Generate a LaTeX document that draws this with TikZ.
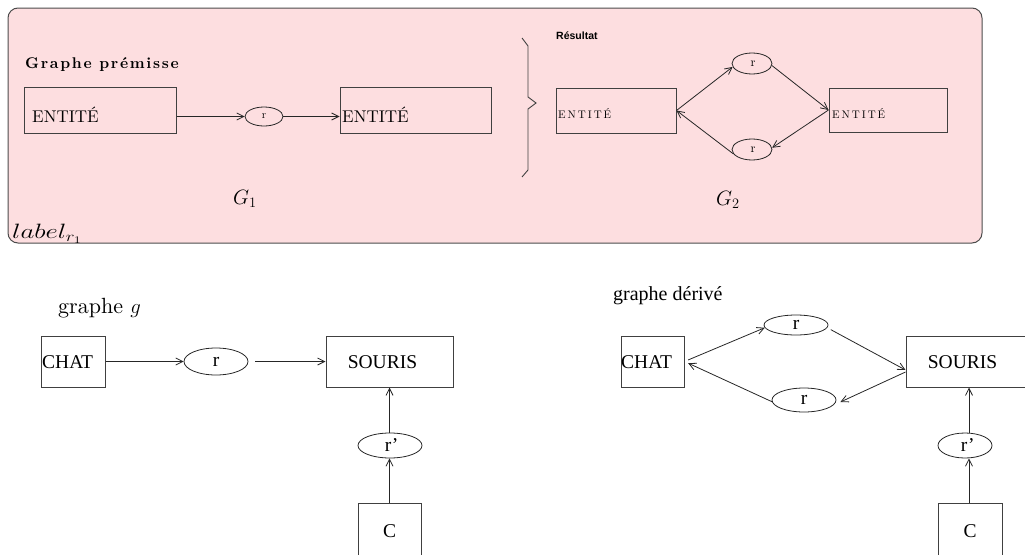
\documentclass[tikz,border=0pt]{standalone}
\usepackage{fontspec}
\setmainfont{lmroman10}[Extension=.otf, UprightFont=*-regular, BoldFont=*-bold, ItalicFont=*-italic, BoldItalicFont=*-bolditalic]
\newfontfamily\tmsfont{Liberation Serif}
\newfontfamily\hlvfont{Liberation Sans}
\usetikzlibrary{arrows.meta,shapes.geometric}
\definecolor{pinkbg}{RGB}{253,222,224}
\begin{document}
\begin{tikzpicture}[x=1pt,y=-1pt,
  box/.style={draw=black!75, line width=1pt, rectangle, inner sep=0pt},
  oval/.style={draw=black!85, line width=0.8pt, ellipse, inner sep=0pt},
  arr/.style={draw=black!85, line width=0.8pt, -{Straight Barb[length=7pt,width=7pt]}},
  txt/.style={inner sep=0pt},
  cmtext/.style={font=\fontsize{17}{20}\selectfont},
  smtext/.style={font=\fontsize{11}{13}\selectfont\addfontfeature{LetterSpace=18}},
  tmtext/.style={font=\tmsfont\fontsize{19.5}{22}\selectfont},
  mathlab/.style={font=\fontsize{20}{24}\selectfont},
  ]
\useasboundingbox (0,0) rectangle (1025,554);
\clip (0,0) rectangle (1025,554);
\draw[fill=pinkbg, draw=black!70, line width=1pt, rounded corners=10pt] (8,8) rectangle (982,243);

% ---------- G1 ----------
\node[txt, anchor=base west, font=\bfseries\fontsize{15.5}{18}\selectfont\addfontfeature{LetterSpace=11}] (gp) at (25,68) {Graphe prémisse};
\node[box, minimum width=152pt, minimum height=46pt] (e1) at (100,110) {};
\node[txt, cmtext, anchor=base west] (e1t) at (32,122) {ENTITÉ};
\node[oval, minimum width=38pt, minimum height=19pt, font=\fontsize{11}{12}\selectfont] (r1) at (264,116.5) {r};
\node[box, minimum width=151pt, minimum height=46pt] (e2) at (415.5,110) {};
\node[txt, cmtext, anchor=base west] (e2t) at (342,122) {ENTITÉ};
\draw[arr] (r1.west -| e1.east) -- (r1.west);
\draw[arr] (r1.east) -- (r1.east -| e2.west);
\node[mathlab] (g1) at (245,199) {$G_1$};
\node[txt, anchor=base west, font=\fontsize{20}{24}\selectfont] (lab) at (12,238) {\scalebox{1.3}[1]{$label_{r_1}$}};

% ---------- brace ----------
\draw[black!75, line width=0.9pt] (522,38) -- (528,46) -- (528,97) -- (536,103) -- (528,109) -- (528,170) -- (522,177);

% ---------- G2 ----------
\node[txt, anchor=base west, font=\hlvfont\bfseries\fontsize{10.5}{12}\selectfont] (res) at (556,39.5) {Résultat};
\node[box, minimum width=120pt, minimum height=45pt] (gl) at (616,110.5) {};
\node[txt, smtext, anchor=base west] (glt) at (558,118.5) {ENTITÉ};
\node[box, minimum width=118pt, minimum height=44pt] (gr) at (888,110) {};
\node[txt, smtext, anchor=base west] (grt) at (832,118) {ENTITÉ};
\node[oval, minimum width=40pt, minimum height=21pt, font=\fontsize{12.5}{14}\selectfont] (gt) at (752,63.5) {\,r};
\node[oval, minimum width=40pt, minimum height=21pt, font=\fontsize{12.5}{14}\selectfont] (gb) at (752,149.5) {\,r};
\draw[arr] (gl.east) -- (gt.190);
\draw[arr] (gt.354) -- (gr.west);
\draw[arr] (gr.west) -- (gb.5);
\draw[arr] (gb.193) -- (gl.east);
\node[mathlab] (g2) at (728,200) {$G_2$};

% ---------- graphe g ----------
\node[txt, anchor=base west, font=\fontsize{22}{26}\selectfont] (lg) at (58,313) {graphe $g$};
\node[box, minimum width=64pt, minimum height=51pt] (ca) at (73,361.5) {};
\node[txt, tmtext, anchor=west] (cat) at (42,362) {CHAT};
\node[oval, minimum width=64pt, minimum height=27pt, tmtext] (ra) at (216,361.5) {r};
\node[box, minimum width=127pt, minimum height=51pt] (sa) at (389.5,361.5) {};
\node[txt, tmtext] (sat) at (382.5,362) {SOURIS};
\node[oval, minimum width=64pt, minimum height=25pt, tmtext] (rpa) at (390,445.5) {\,r’};
\node[box, minimum width=63pt, minimum height=56pt, tmtext] (cca) at (389.5,531) {C};
\draw[arr] (ca.east) -- (ra.west);
\draw[arr, shorten <=7pt] (ra.east) -- (sa.west);
\draw[arr] (cca.north) -- (cca.north |- rpa.south);
\draw[arr] (rpa.north -| cca.north) -- (sa.south -| cca.north);

% ---------- graphe derive ----------
\node[txt, anchor=base west, font=\tmsfont\fontsize{20}{24}\selectfont] (ld) at (613,300) {graphe dérivé};
\node[box, minimum width=63pt, minimum height=51pt] (cb) at (652.5,361.5) {};
\node[txt, tmtext, anchor=west] (cbt) at (621,362) {CHAT};
\node[oval, minimum width=64pt, minimum height=20pt, tmtext] (rt) at (796,325) {r};
\node[oval, minimum width=64pt, minimum height=24pt, tmtext] (rb) at (804,400) {r};
\node[box, minimum width=127pt, minimum height=51pt] (sb) at (969.5,361.5) {};
\node[txt, tmtext] (sbt) at (962.5,362) {SOURIS};
\node[oval, minimum width=54pt, minimum height=25pt, tmtext] (rpb) at (965,445.5) {\;r’};
\node[box, minimum width=64pt, minimum height=56pt, tmtext] (ccb) at (970,531) {C};
\draw[arr, shorten <=4pt] (cb.east) -- (rt.185);
\draw[arr, shorten <=4pt] (rt.355) -- ([yshift=-8.5pt]sb.west);
\draw[arr] ([yshift=-10.5pt]sb.west) -- ([xshift=4pt,yshift=-2pt]rb.east);
\draw[arr, shorten >=4pt] (rb.183) -- (cb.east);
\draw[arr] (ccb.north -| 969,0) -- (rpb.south -| 969,0);
\draw[arr] (rpb.north -| 969,0) -- (sb.south -| 969,0);
\end{tikzpicture}
\end{document}
